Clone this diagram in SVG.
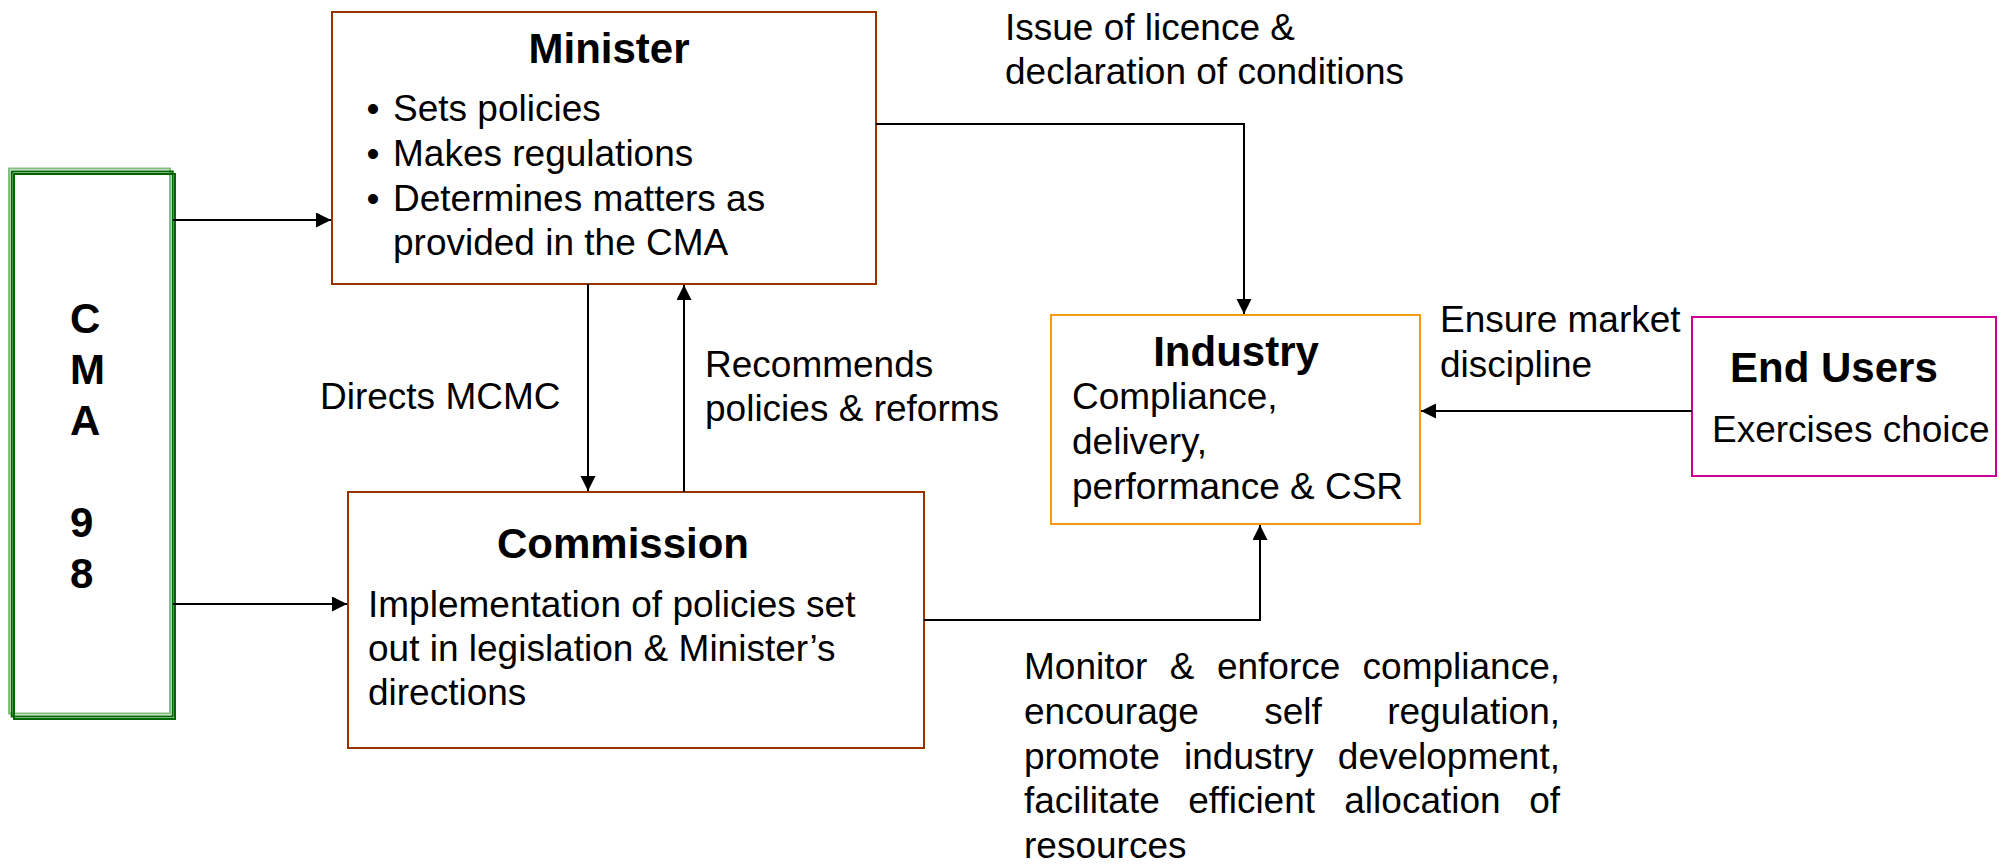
<svg xmlns="http://www.w3.org/2000/svg" width="2001" height="864" viewBox="0 0 2001 864">
<style>
text{font-family:"Liberation Sans",Arial,sans-serif;fill:#000}
.b{font-size:37px}
.t{font-size:42px;font-weight:bold}
.box{fill:#fff;stroke-width:2}
.br{stroke:#993300}
.conn{fill:none;stroke:#000;stroke-width:2}
</style>
<defs>
<marker id="ah" markerUnits="userSpaceOnUse" markerWidth="16" markerHeight="16" refX="15" refY="7.5" orient="auto">
<path d="M0,0 L15,7.5 L0,15 z" fill="#000"/>
</marker>
</defs>
<rect width="2001" height="864" fill="#fff"/>

<g id="cma">
<rect x="9" y="168.5" width="161" height="545" fill="#fff" stroke="#80bf80" stroke-width="2"/>
<rect x="11.7" y="171.5" width="161" height="545" fill="none" stroke="#006600" stroke-width="2"/>
<rect x="14" y="174" width="161" height="545" fill="none" stroke="#006600" stroke-width="2"/>
<text class="t" x="70" y="333">C</text>
<text class="t" x="70" y="384">M</text>
<text class="t" x="70" y="435">A</text>
<text class="t" x="70" y="537">9</text>
<text class="t" x="70" y="588">8</text>
</g>

<g id="minister">
<rect class="box br" x="332" y="12" width="544" height="272"/>
<text class="t" x="609" y="63" text-anchor="middle">Minister</text>
<text class="b" x="366.5" y="121">•</text>
<text class="b" x="393" y="121">Sets policies</text>
<text class="b" x="366.5" y="166">•</text>
<text class="b" x="393" y="166">Makes regulations</text>
<text class="b" x="366.5" y="211">•</text>
<text class="b" x="393" y="211">Determines matters as</text>
<text class="b" x="393" y="255">provided in the CMA</text>
</g>

<g id="commission">
<rect class="box br" x="348" y="492" width="576" height="256"/>
<text class="t" x="623" y="558" text-anchor="middle">Commission</text>
<text class="b" x="368" y="617">Implementation of policies set</text>
<text class="b" x="368" y="661">out in legislation &amp; Minister’s</text>
<text class="b" x="368" y="705">directions</text>
</g>

<g id="industry">
<rect class="box" x="1051" y="315" width="369" height="209" stroke="#f39c12"/>
<text class="t" x="1236" y="366" text-anchor="middle">Industry</text>
<text class="b" x="1072" y="409">Compliance,</text>
<text class="b" x="1072" y="454">delivery,</text>
<text class="b" x="1072" y="499">performance &amp; CSR</text>
</g>

<g id="endusers">
<rect class="box" x="1692" y="317" width="304" height="159" stroke="#cc0099"/>
<text class="t" x="1730" y="382">End Users</text>
<text class="b" x="1712" y="442">Exercises choice</text>
</g>

<g id="connectors">
<path class="conn" d="M173,220 H331" marker-end="url(#ah)"/>
<path class="conn" d="M173,604 H347" marker-end="url(#ah)"/>
<path class="conn" d="M588,284 V491" marker-end="url(#ah)"/>
<path class="conn" d="M684,492 V285" marker-end="url(#ah)"/>
<path class="conn" d="M876,124 H1244 V314" marker-end="url(#ah)"/>
<path class="conn" d="M924,620 H1260 V525" marker-end="url(#ah)"/>
<path class="conn" d="M1692,411 H1421" marker-end="url(#ah)"/>
</g>

<g id="labels">
<text class="b" x="320" y="409">Directs MCMC</text>
<text class="b" x="705" y="377">Recommends</text>
<text class="b" x="705" y="421">policies &amp; reforms</text>
<text class="b" x="1005" y="40">Issue of licence &amp;</text>
<text class="b" x="1005" y="84">declaration of conditions</text>
<text class="b" x="1440" y="332">Ensure market</text>
<text class="b" x="1440" y="377">discipline</text>
<text class="b" x="1024" y="679">Monitor</text>
<text class="b" x="1169.8" y="679">&amp;</text>
<text class="b" x="1216.9" y="679">enforce</text>
<text class="b" x="1560" y="679" text-anchor="end">compliance,</text>
<text class="b" x="1024" y="724">encourage</text>
<text class="b" x="1264.2" y="724">self</text>
<text class="b" x="1560" y="724" text-anchor="end">regulation,</text>
<text class="b" x="1024" y="769">promote</text>
<text class="b" x="1184" y="769">industry</text>
<text class="b" x="1560" y="769" text-anchor="end">development,</text>
<text class="b" x="1024" y="813">facilitate</text>
<text class="b" x="1188.2" y="813">efficient</text>
<text class="b" x="1344.3" y="813">allocation</text>
<text class="b" x="1560" y="813" text-anchor="end">of</text>
<text class="b" x="1024" y="858">resources</text>
</g>
</svg>
